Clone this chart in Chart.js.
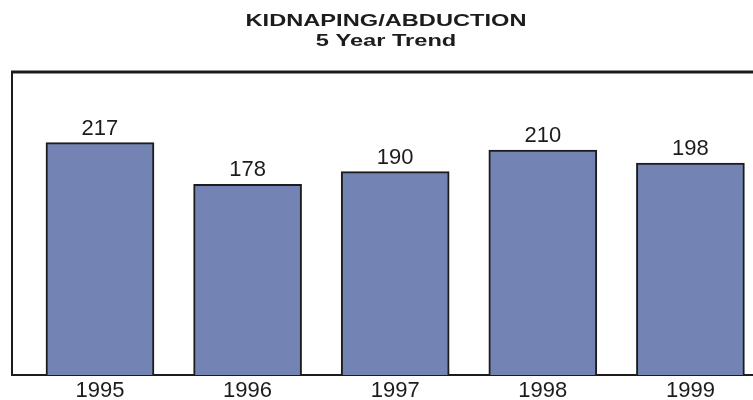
<!DOCTYPE html>
<html>
<head>
<meta charset="utf-8">
<script src="https://cdn.jsdelivr.net/npm/chart.js@4.4.1/dist/chart.umd.min.js"></script>
<style>
  html, body { margin: 0; padding: 0; background: #fff; overflow: hidden; }
  #wrap { width: 753px; height: 400px; }
</style>
</head>
<body>
<div id="wrap"><canvas id="trendChart" width="753" height="400"></canvas></div>
<script>
// data
const years = [1995, 1996, 1997, 1998, 1999];
const yearLabels = ["1995", "1996", "1997", "1998", "1999"];
const cases = [217, 178, 190, 210, 198];
const titleLines = ["KIDNAPING/ABDUCTION", "5 Year Trend"];

const barFill = "#7384b4";
const inkColor = "#1c1c1c";

// title is drawn a bit wide like the original print
const wideTitle = {
    id: "wideTitle",
    afterDraw(chart) {
        const ctx = chart.ctx;
        ctx.save();
        ctx.fillStyle = inkColor;
        ctx.font = "bold 17px 'Liberation Sans', Arial, sans-serif";
        ctx.textAlign = "center";
        ctx.textBaseline = "alphabetic";
        const baselines = [25.5, 46];
        titleLines.forEach((line, i) => {
            ctx.save();
            ctx.translate(386, baselines[i]);
            ctx.scale(1.39, 1);
            ctx.fillText(line, 0, 0);
            ctx.restore();
        });
        ctx.restore();
    }
};

// heavy frame line on top of the plot
const topRule = {
    id: "topRule",
    afterDraw(chart) {
        const { ctx, chartArea } = chart;
        ctx.save();
        ctx.strokeStyle = inkColor;
        ctx.lineWidth = 3;
        ctx.beginPath();
        ctx.moveTo(chartArea.left - 1, chartArea.top);
        ctx.lineTo(chart.width, chartArea.top);
        ctx.stroke();
        ctx.restore();
    }
};

// numbers above the bars
const valueLabels = {
    id: "valueLabels",
    afterDatasetsDraw(chart) {
        const ctx = chart.ctx;
        const meta = chart.getDatasetMeta(0);
        ctx.save();
        ctx.fillStyle = inkColor;
        ctx.font = "22px 'Liberation Sans', Arial, sans-serif";
        ctx.textAlign = "center";
        ctx.textBaseline = "bottom";
        meta.data.forEach((bar, i) => {
            ctx.fillText(String(cases[i]), bar.x, bar.y - 3);
        });
        ctx.restore();
    }
};

new Chart(document.getElementById("trendChart").getContext("2d"), {
    type: "bar",
    data: {
        datasets: [{
            label: "Kidnaping/Abduction",
            data: years.map((yr, i) => ({ x: yr, y: cases[i] })),
            backgroundColor: barFill,
            borderColor: inkColor,
            borderWidth: 2,
            borderSkipped: "bottom",
            barThickness: 108
        }]
    },
    options: {
        responsive: false,
        animation: false,
        layout: { padding: { top: 72, left: 12, right: 0, bottom: 0 } },
        plugins: {
            legend: { display: false },
            title: { display: false },
            tooltip: { enabled: false }
        },
        scales: {
            x: {
                type: "linear",
                offset: false,
                min: 1994.404,
                max: 1999.424,
                grid: { display: false, drawTicks: false },
                border: { display: true, color: inkColor, width: 2 },
                afterFit: (scale) => { scale.height = 25; },
                afterBuildTicks: (scale) => {
                    scale.ticks = years.map(v => ({ value: v }));
                },
                ticks: {
                    padding: 3,
                    color: inkColor,
                    font: { family: "'Liberation Sans', Arial, sans-serif", size: 22 },
                    maxRotation: 0,
                    callback: (value) => yearLabels[years.indexOf(value)]
                }
            },
            y: {
                min: 0,
                max: 283,
                grid: { display: false, drawTicks: false },
                border: { display: true, color: inkColor, width: 2 },
                ticks: { display: false },
                afterFit: (scale) => { scale.width = 0; }
            }
        }
    },
    plugins: [wideTitle, topRule, valueLabels]
});
</script>
</body>
</html>
